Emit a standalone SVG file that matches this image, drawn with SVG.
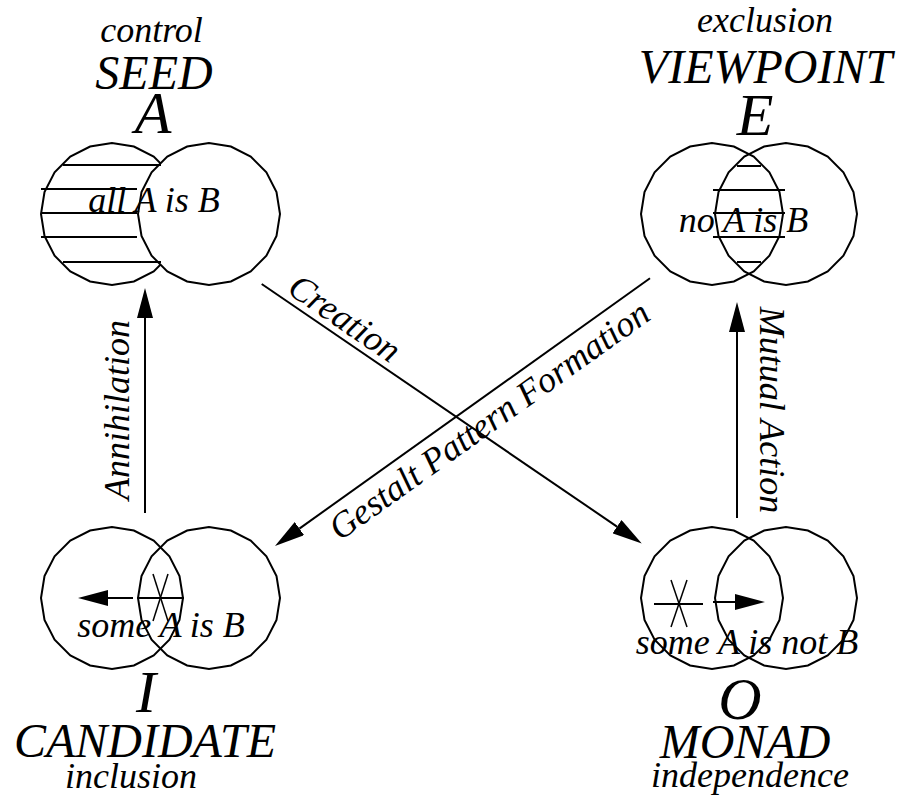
<svg xmlns="http://www.w3.org/2000/svg" xmlns:xlink="http://www.w3.org/1999/xlink" width="897" height="798" viewBox="0 0 897 798">
<style>
  text { font-family: "Liberation Serif", "Times New Roman", serif; font-style: italic; fill: #000; text-anchor: middle; }
  .sm { font-size: 36px; }
  .md { font-size: 48px; }
  .lg { font-size: 60px; }
  .ln { stroke: #000; stroke-width: 2; fill: none; }
  .thin { stroke: #000; stroke-width: 1.5; fill: none; }
  .c { stroke: #000; stroke-width: 2; fill: none; }
  .cw { stroke: #000; stroke-width: 2; fill: #fff; }
</style>
<defs>
  <polygon id="circ" points="0,-71 -21.9,-67.5 -41.7,-57.4 -57.4,-41.7 -67.5,-21.9 -71,0 -67.5,21.9 -57.4,41.7 -41.7,57.4 -21.9,67.5 0,71 21.9,67.5 41.7,57.4 57.4,41.7 67.5,21.9 71,0 67.5,-21.9 57.4,-41.7 41.7,-57.4 21.9,-67.5"/>
  <marker id="ah" markerUnits="userSpaceOnUse" markerWidth="30" markerHeight="16" viewBox="0 0 30 16" refX="0" refY="8" orient="auto">
    <path d="M0,0 L30,8 L0,16 z" fill="#000"/>
  </marker>
</defs>
<rect width="897" height="798" fill="#fff"/>

<g id="node-A">
  <text class="sm" x="151.5" y="42">control</text>
  <text class="md" x="154" y="89">SEED</text>
  <text class="lg" x="153" y="133">A</text>
  <use xlink:href="#circ" x="112" y="214" class="c"/>
  <use xlink:href="#circ" x="209" y="214" class="cw"/>
  <line class="ln" x1="63" y1="165" x2="161" y2="165"/>
  <line class="ln" x1="41" y1="189" x2="137" y2="189"/>
  <line class="ln" x1="41" y1="213" x2="137" y2="213"/>
  <line class="ln" x1="41" y1="237" x2="137" y2="237"/>
  <line class="ln" x1="63" y1="262" x2="161" y2="262"/>
  <text class="sm" x="154" y="212">all A is B</text>
</g>

<g id="node-E">
  <text class="sm" x="765" y="32">exclusion</text>
  <text class="md" x="765.5" y="83">VIEWPOINT</text>
  <text class="lg" x="755" y="135">E</text>
  <use xlink:href="#circ" x="712" y="214" class="c"/>
  <use xlink:href="#circ" x="786" y="214" class="c"/>
  <line class="ln" x1="737" y1="166" x2="761" y2="166"/>
  <line class="ln" x1="713" y1="190" x2="785" y2="190"/>
  <line class="ln" x1="713" y1="213" x2="785" y2="213"/>
  <line class="ln" x1="713" y1="237" x2="785" y2="237"/>
  <line class="ln" x1="737" y1="262" x2="761" y2="262"/>
  <text class="sm" x="743.5" y="232">no A is B</text>
</g>

<g id="node-I">
  <use xlink:href="#circ" x="112" y="598" class="c"/>
  <use xlink:href="#circ" x="209" y="598" class="c"/>
  <line class="thin" x1="153" y1="574" x2="168" y2="621"/>
  <line class="thin" x1="168" y1="574" x2="153" y2="621"/>
  <line class="ln" x1="137" y1="598" x2="184" y2="598"/>
  <line class="ln" x1="133" y1="598" x2="108" y2="598" marker-end="url(#ah)"/>
  <text class="sm" x="161" y="637">some A is B</text>
  <text class="lg" x="146" y="712">I</text>
  <text class="md" x="145" y="757">CANDIDATE</text>
  <text class="sm" x="131" y="788">inclusion</text>
</g>

<g id="node-O">
  <use xlink:href="#circ" x="712" y="598" class="c"/>
  <use xlink:href="#circ" x="786" y="598" class="c"/>
  <line class="thin" x1="671" y1="580" x2="687" y2="627"/>
  <line class="thin" x1="687" y1="580" x2="671" y2="627"/>
  <line class="ln" x1="654" y1="604" x2="703" y2="604"/>
  <line class="ln" x1="713" y1="602" x2="735" y2="602" marker-end="url(#ah)"/>
  <text class="sm" x="747" y="654">some A is not B</text>
  <text class="lg" x="740" y="719">O</text>
  <text class="md" x="745" y="758">MONAD</text>
  <text class="sm" x="750" y="787">independence</text>
</g>

<g id="connectors">
  <line class="ln" x1="145" y1="513" x2="145" y2="318" marker-end="url(#ah)"/>
  <line class="ln" x1="737" y1="518" x2="737" y2="332" marker-end="url(#ah)"/>
  <line class="ln" x1="261.7" y1="284" x2="617" y2="526.6" marker-end="url(#ah)"/>
  <line class="ln" x1="650" y1="278.3" x2="299.4" y2="528.6" marker-end="url(#ah)"/>
  <text class="sm" transform="translate(129,410) rotate(-90)">Annihilation</text>
  <text class="sm" transform="translate(760,410) rotate(90)">Mutual Action</text>
  <text class="sm" transform="translate(338,328) rotate(34.4)">Creation</text>
  <text class="sm" transform="translate(496,430) rotate(-35.5)">Gestalt Pattern Formation</text>
</g>
</svg>
